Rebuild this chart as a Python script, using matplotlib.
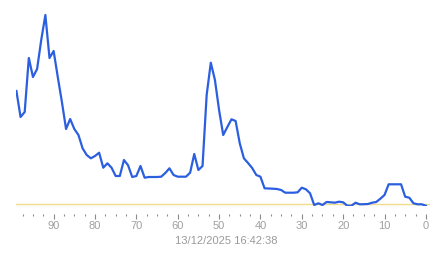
import numpy as np
import matplotlib.pyplot as plt
from matplotlib.ticker import MultipleLocator

# x positions (minutes ago) and readings
mins = np.arange(99, -1, -1)
vals = [115, 89, 94, 148, 129, 137, 166, 191, 148, 155,
        129, 104, 77, 87, 77, 71, 57.7, 51, 47.7, 50,
        53.3, 38.3, 42.7, 38.3, 30, 30, 46, 40.7, 29, 30,
        40, 28.3, 29, 29, 29, 29.3, 33, 37.7, 31, 29.3,
        29.3, 29.3, 33.3, 52, 36, 40, 111, 143.3, 126, 96,
        71, 79, 86.7, 85, 62.7, 47.7, 43, 38, 31, 29.3,
        17.7, 17.5, 17.3, 17, 16, 13.3, 13.3, 13.3, 13.7, 18.3,
        16.7, 12.7, 1, 2.7, 1, 4, 3.7, 3.3, 4.3, 3.7,
        0.3, 0.3, 3.3, 1.7, 1.8, 2, 3.3, 4, 7.3, 11,
        21.7, 21.7, 21.7, 21.7, 9.3, 8.3, 2.7, 1.7, 1.7, 0.3]
threshold = 1.7
major_ticks = [90, 80, 70, 60, 50, 40, 30, 20, 10, 0]
stamp = "13/12/2025 16:42:38"

plt.rcParams['font.family'] = ['Liberation Sans', 'DejaVu Sans']

fig = plt.figure(figsize=(4.43, 2.58), dpi=100)
ax = fig.add_axes([16 / 443, 1 - 206 / 258, 414 / 443, 206 / 258])
ax.set_xlim(99.1, -1)
ax.set_ylim(0, 206)

# threshold line and the series
ax.axhline(threshold, color="#f0dc8c", lw=1.0, zorder=1)
ax.plot(mins, vals, color="#2c5fe0", lw=1.6, zorder=2)

for s in ["top", "left", "right"]:
    ax.spines[s].set_visible(False)
ax.spines["bottom"].set_position(("outward", 6))
ax.spines["bottom"].set_visible(False)
ax.set_yticks([])
ax.set_xticks(major_ticks)
ax.xaxis.set_minor_locator(MultipleLocator(2.5))
ax.tick_params(axis="x", which="major", length=3.5, width=0.8, color="#8a8a8a",
               labelsize=8, labelcolor="#a0a0a0", pad=1.5)
ax.tick_params(axis="x", which="minor", length=1.2, width=0.8, color="#8a8a8a")

fig.text(226 / 443, 1 - 241 / 258, stamp, ha="center", va="center",
         fontsize=8, color="#9a9a9a")

fig.savefig("out.png", dpi=100)
